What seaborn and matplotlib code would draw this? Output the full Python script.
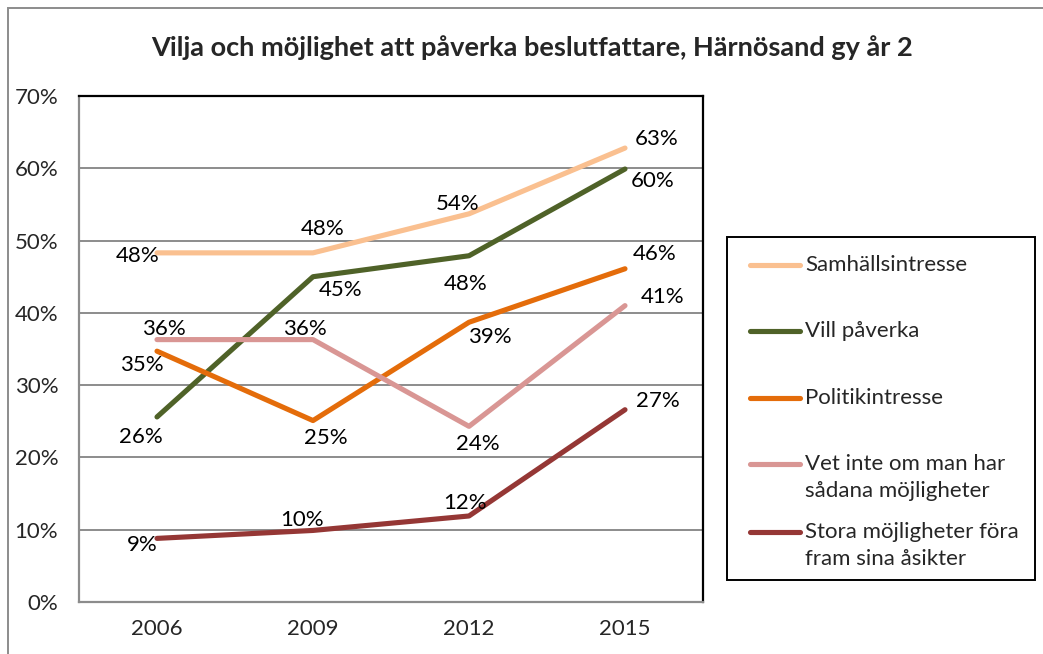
import matplotlib
matplotlib.use("Agg")
import matplotlib.pyplot as plt
import seaborn as sns
import pandas as pd
from matplotlib.patches import Rectangle
from matplotlib.lines import Line2D

years = [2006, 2009, 2012, 2015]
series = ["Samhällsintresse", "Vill påverka", "Politikintresse",
          "Vet inte om man har\nsådana möjligheter",
          "Stora möjligheter föra\nfram sina åsikter"]
samhall = [48.3, 48.3, 53.7, 62.8]
vill = [25.6, 45.0, 47.9, 59.9]
politik = [34.7, 25.1, 38.7, 46.1]
vet_inte = [36.3, 36.3, 24.3, 41.0]
stora = [8.8, 9.9, 11.9, 26.6]
labels = [["48%", "48%", "54%", "63%"],
          ["26%", "45%", "48%", "60%"],
          ["35%", "25%", "39%", "46%"],
          ["36%", "36%", "24%", "41%"],
          ["9%", "10%", "12%", "27%"]]
colors = ["#FAC090", "#4F6228", "#E46C0A", "#D99694", "#953735"]

# label offsets in pixels (dx, dy), by hand to mimic the excel placement
offsets = [[(-19, -3), (10, 24), (-11, 10), (32, 9)],
           [(-16, -20), (28, -13), (-3, -28), (28, -12)],
           [(-15, -14), (13, -17), (21, -15), (30, 15)],
           [(7, 11), (-8, 11), (9, -18), (38, 9)],
           [(-15, -7), (-11, 10), (-4, 13), (33, 9)]]

values = [samhall, vill, politik, vet_inte, stora]
rows = []
for name, vals in zip(series, values):
    for y, v in zip(years, vals):
        rows.append({"year": y, "value": v, "serie": name})
df = pd.DataFrame(rows)

sns.set_style("white")
plt.rcParams["font.family"] = ["Lato", "DejaVu Sans"]

W, H = 1043, 654
fig = plt.figure(figsize=(W / 100, H / 100), dpi=100)
ax = fig.add_axes([79 / W, 52 / H, 624 / W, 506 / H])

sns.lineplot(data=df, x="year", y="value", hue="serie", palette=colors,
             hue_order=series, linewidth=3.7, ax=ax, legend=False)
for line in ax.get_lines():
    line.set_solid_capstyle("round")

for i, vals in enumerate(values):
    for j, (y, v) in enumerate(zip(years, vals)):
        ax.annotate(labels[i][j], (y, v), xytext=offsets[i][j],
                    textcoords="offset pixels", ha="center", va="center",
                    fontsize=16, color="black")

ax.set_xlim(2004.5, 2016.5)
ax.set_ylim(0, 70)
ax.set_xticks(years)
ax.set_xticklabels([str(y) for y in years])
ax.set_yticks(range(0, 71, 10))
ax.set_yticklabels([f"{t}%" for t in range(0, 71, 10)])
ax.tick_params(axis="both", labelsize=16, length=0)
ax.tick_params(axis="y", pad=15)
ax.tick_params(axis="x", pad=12)
ax.set_xlabel("")
ax.set_ylabel("")
ax.yaxis.grid(True, color="#8c8c8c", linewidth=1.4)
ax.set_axisbelow(True)
for s in ["left", "bottom"]:
    ax.spines[s].set_color("#8c8c8c")
    ax.spines[s].set_linewidth(1.6)
for s in ["top", "right"]:
    ax.spines[s].set_color("black")
    ax.spines[s].set_linewidth(1.6)

# legend drawn by hand, excel style (handle on the first text line)
fig.patches.append(Rectangle((727 / W, 1 - 580 / H), 308 / W, 343 / H,
                             transform=fig.transFigure, fill=False,
                             edgecolor="black", linewidth=1.4))
entry_y = [265, 331, 398, 464, 532]
for name, c, ey in zip(series, colors, entry_y):
    fig.lines.append(Line2D([750 / W, 800 / W], [1 - ey / H, 1 - ey / H],
                            transform=fig.transFigure, color=c,
                            linewidth=3.7, solid_capstyle="round"))
    for k, part in enumerate(name.split("\n")):
        fig.text(805 / W, 1 - (ey + 27 * k) / H, part, fontsize=16,
                 ha="left", va="center")

fig.suptitle("Vilja och möjlighet att påverka beslutfattare, Härnösand gy år 2",
             x=532 / W, y=1 - 48 / H, va="center",
             fontsize=19.5, fontweight="bold")

fig.patches.append(Rectangle((8 / W, -0.1), 1.2, 1.1 - 8 / H,
                             transform=fig.transFigure, fill=False,
                             edgecolor="#8c8c8c", linewidth=1.4))

fig.savefig("out.png", dpi=100)
